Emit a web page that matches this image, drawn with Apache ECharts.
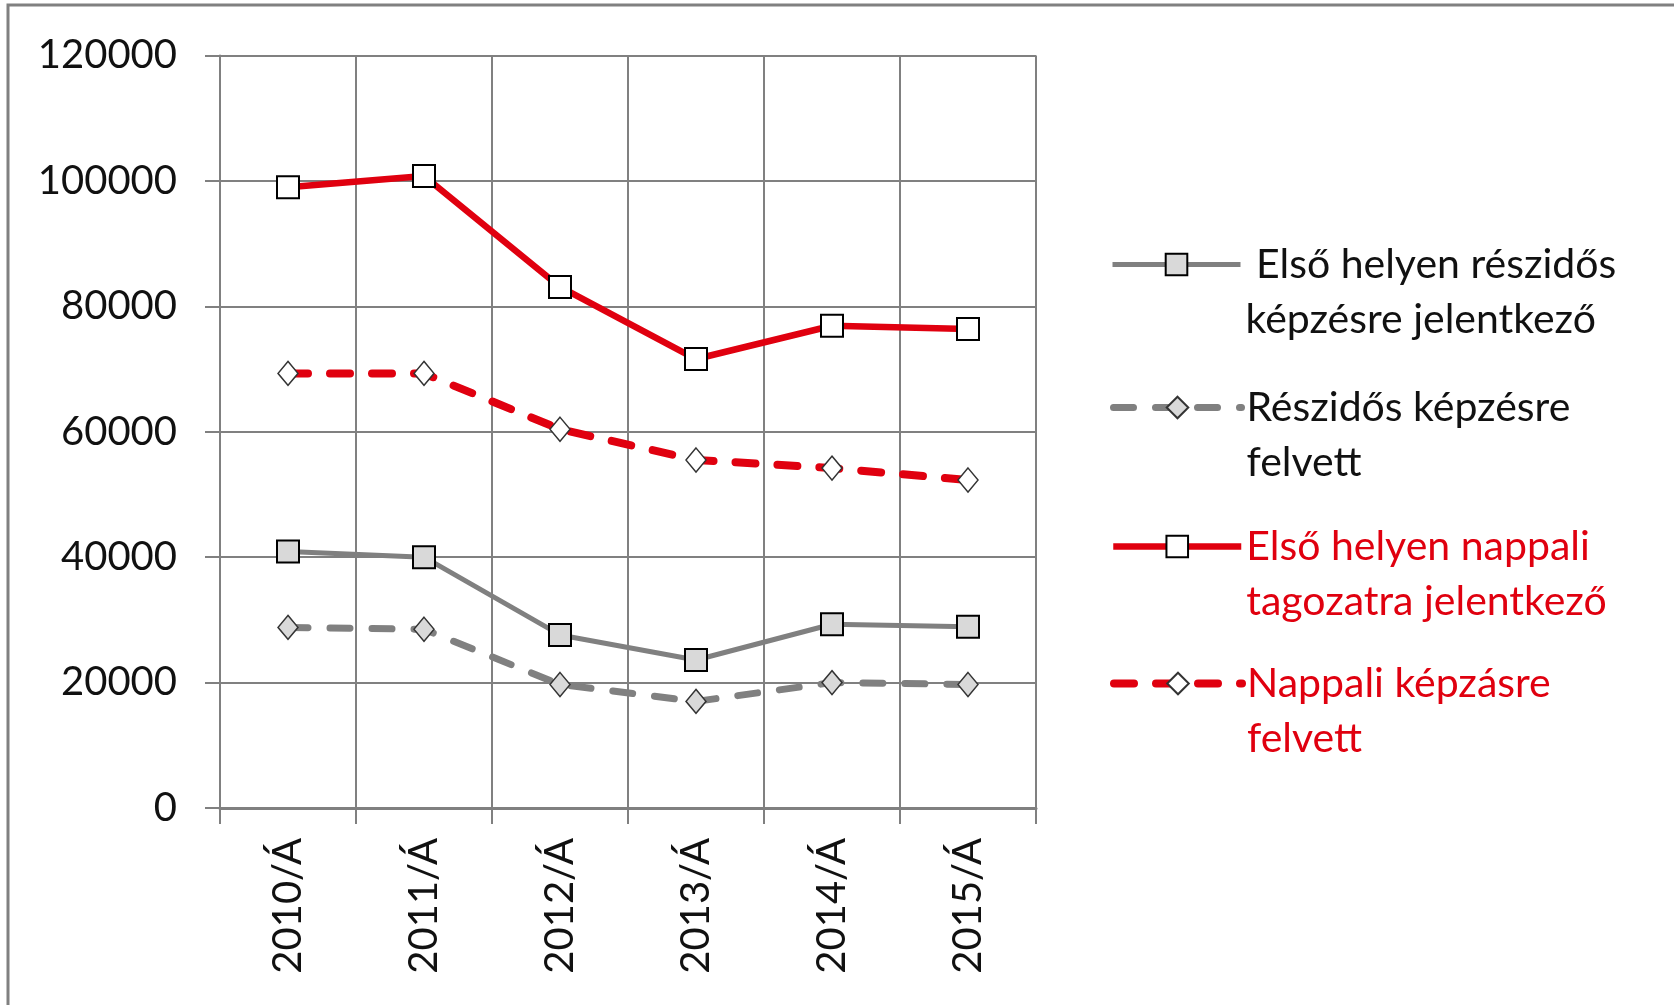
<!DOCTYPE html>
<html>
<head>
<meta charset="utf-8">
<script src="https://cdn.jsdelivr.net/npm/echarts@6/dist/echarts.min.js"></script>
<style>
  html, body { margin: 0; padding: 0; background: #fff; }
  #chart { width: 1674px; height: 1005px; }
</style>
</head>
<body>
<div id="chart"></div>
<script>
// kategóriák (évek)
const years = ['2010/Á', '2011/Á', '2012/Á', '2013/Á', '2014/Á', '2015/Á']
// sorozatok
const reszidosJelentkezo = [40900, 40000, 27600, 23600, 29300, 28900]
const reszidosFelvett = [28800, 28500, 19700, 17000, 20000, 19700]
const nappaliJelentkezo = [99000, 100800, 83100, 71600, 76900, 76400]
const nappaliFelvett = [69300, 69300, 60400, 55500, 54200, 52300]
// y tengely
const yMin = 0
const yMax = 120000
const yStep = 20000

const names = [
  ' Első helyen részidős\nképzésre jelentkező',
  'Részidős képzésre\nfelvett',
  'Első helyen nappali\ntagozatra jelentkező',
  'Nappali képzásre\nfelvett'
]

const FONT = 'Lato'
const GRAY = '#808080'
const RED = '#e0000f'

// egy-egy legenda minden sorozatnak, az első sor a jelhez igazítva
function makeLegend (name, color, top) {
  return {
    orient: 'vertical',
    left: 1110,
    top: top,
    padding: 0,
    itemWidth: 128,
    itemHeight: 27,
    data: [{ name: name, textStyle: { color: color } }],
    // üres első sor, hogy a jel az első szövegsorhoz kerüljön
    formatter: function (n) { return '\n' + n },
    lineStyle: { width: 'inherit', type: 'inherit', cap: 'inherit' },
    textStyle: {
      fontFamily: FONT,
      fontSize: 41,
      lineHeight: 55
    }
  }
}

const chart = echarts.init(document.getElementById('chart'))
chart.setOption({
  backgroundColor: '#fff',
  animation: false,
  graphic: [{
    type: 'rect',
    shape: { x: 8, y: 5, width: 2000, height: 2000 },
    style: { fill: 'none', stroke: GRAY, lineWidth: 3 },
    silent: true
  }],
  legend: [
    makeLegend(names[0], '#111', 182),
    makeLegend(names[1], '#111', 325),
    makeLegend(names[2], RED, 464),
    makeLegend(names[3], RED, 601)
  ],
  grid: { left: 220, right: 638, top: 55.5, bottom: 197 },
  xAxis: {
    type: 'category',
    data: years,
    boundaryGap: true,
    axisLine: { lineStyle: { color: GRAY, width: 3 } },
    axisTick: { show: true, length: 16, lineStyle: { color: GRAY, width: 2 } },
    splitLine: { show: true, lineStyle: { color: GRAY, width: 2 } },
    axisLabel: {
      rotate: 90,
      margin: 30,
      color: '#111',
      fontFamily: FONT,
      fontSize: 40
    }
  },
  yAxis: {
    type: 'value',
    min: yMin,
    max: yMax,
    interval: yStep,
    axisLine: { show: true, lineStyle: { color: GRAY, width: 2 } },
    axisTick: { show: true, length: 15, lineStyle: { color: GRAY, width: 2 } },
    splitLine: { show: true, lineStyle: { color: GRAY, width: 2 } },
    axisLabel: {
      margin: 43,
      color: '#111',
      fontFamily: FONT,
      fontSize: 40,
      formatter: function (v) { return String(v) }
    }
  },
  series: [
    {
      name: names[0],
      type: 'line',
      data: reszidosJelentkezo,
      symbol: 'rect',
      symbolSize: 22,
      itemStyle: { color: '#d9d9d9', borderColor: '#000', borderWidth: 2 },
      lineStyle: { color: GRAY, width: 5 },
      z: 3
    },
    {
      name: names[1],
      type: 'line',
      data: reszidosFelvett,
      symbol: 'diamond',
      symbolSize: [20, 24],
      itemStyle: { color: '#d9d9d9', borderColor: '#333', borderWidth: 1.5 },
      lineStyle: { color: GRAY, width: 7, type: [20, 22], cap: 'round' },
      z: 2
    },
    {
      name: names[2],
      type: 'line',
      data: nappaliJelentkezo,
      symbol: 'rect',
      symbolSize: 22,
      itemStyle: { color: '#fff', borderColor: '#000', borderWidth: 2 },
      lineStyle: { color: RED, width: 6.5 },
      z: 5
    },
    {
      name: names[3],
      type: 'line',
      data: nappaliFelvett,
      symbol: 'diamond',
      symbolSize: [20, 24],
      itemStyle: { color: '#fff', borderColor: '#333', borderWidth: 1.5 },
      lineStyle: { color: RED, width: 8, type: [20, 22], cap: 'round' },
      z: 4
    }
  ]
})
</script>
</body>
</html>
